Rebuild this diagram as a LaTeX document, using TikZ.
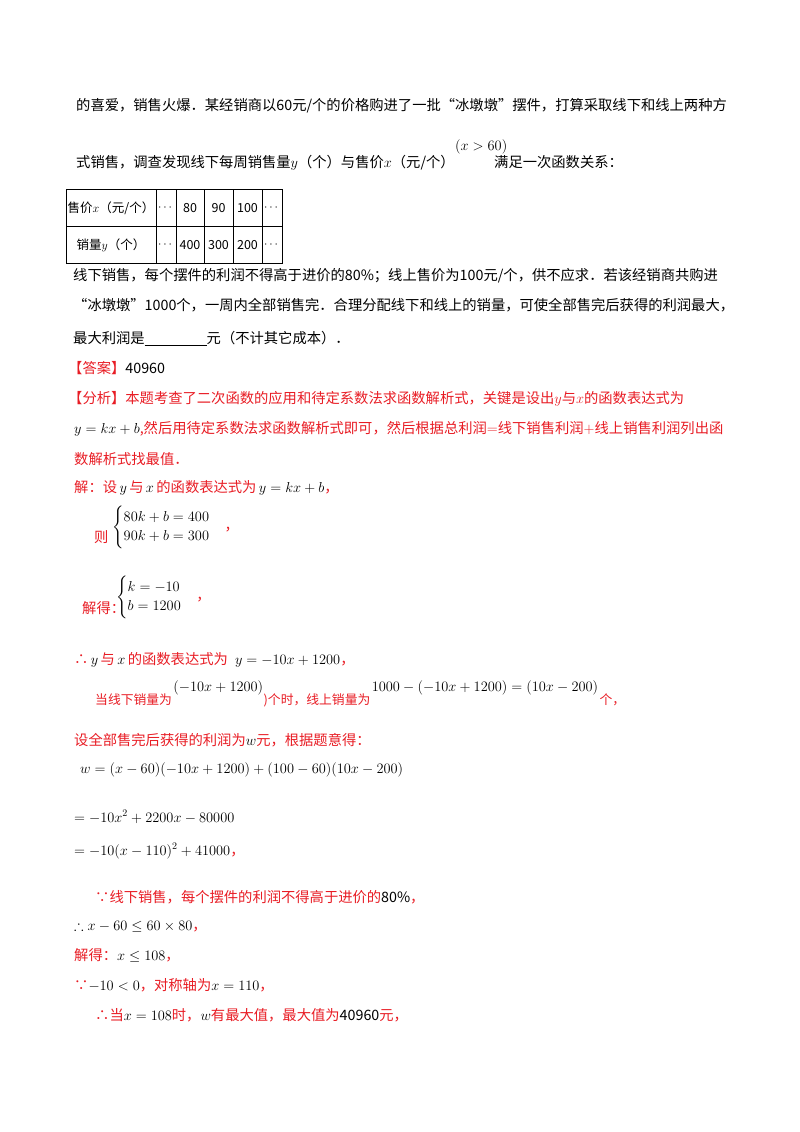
\documentclass[tikz,border=0pt]{standalone}
\usepackage{fontspec}
\usepackage{amsmath,amssymb}
\newfontfamily\cjk{Noto Sans CJK SC}
\definecolor{ansred}{RGB}{232,28,36}
\begin{document}
\begin{tikzpicture}[x=1pt,y=-1pt,
  txt/.style={anchor=base west,inner sep=0pt,font=\cjk\fontsize{14.3}{16}\selectfont},
  rtxt/.style={txt,text=ansred},
  stxt/.style={anchor=base west,inner sep=0pt,text=ansred,font=\cjk\fontsize{12.8}{14}\selectfont},
  mtxt/.style={anchor=base west,inner sep=0pt,font=\cjk\fontsize{13.5}{15}\selectfont},
  cell/.style={anchor=center,inner sep=0pt,font=\cjk\fontsize{12.5}{14}\selectfont}]
\useasboundingbox (0,0) rectangle (800,1132);
\node[txt] (l1) at (76,110) {的喜爱，销售火爆．某经销商以60元/个的价格购进了一批“冰墩墩”摆件，打算采取线下和线上两种方};
\node[txt] (l2) at (76,167) {式销售，调查发现线下每周销售量$y$（个）与售价$x$（元/个）};
\node[txt] (l2b) at (455,150) {$(x>60)$};
\node[txt] (l2c) at (494,167) {满足一次函数关系：};
% table
\draw[thick] (66,189) rectangle (282,263);
\draw (66,226) -- (282,226);
\foreach \xx in {156,176,204,233,262} \draw (\xx,189) -- (\xx,263);
\node[cell] (c11) at (111,208) {售价$x$（元/个）};
\node[cell] (c21) at (111,245) {销量$y$（个）};
\node[cell] (c12) at (166,208) {$\cdots$};
\node[cell] (c22) at (166,245) {$\cdots$};
\node[cell] (c13) at (190,208) {80};
\node[cell] (c14) at (218.5,208) {90};
\node[cell] (c15) at (247.5,208) {100};
\node[cell] (c16) at (272,208) {$\cdots$};
\node[cell] (c23) at (190,245) {400};
\node[cell] (c24) at (218.5,245) {300};
\node[cell] (c25) at (247.5,245) {200};
\node[cell] (c26) at (272,245) {$\cdots$};
\node[txt] (l3) at (73,280) {线下销售，每个摆件的利润不得高于进价的80\%；线上售价为100元/个，供不应求．若该经销商共购进};
\node[txt] (l4) at (73,310) {“冰墩墩”1000个，一周内全部销售完．合理分配线下和线上的销量，可使全部售完后获得的利润最大，};
\node[txt] (l5) at (73,343) {最大利润是\underline{\hspace{62pt}}元（不计其它成本）．};
\node[txt] (ans) at (68,373) {\textcolor{ansred}{【答案】}40960};
\node[rtxt] (a1) at (68,403) {【分析】本题考查了二次函数的应用和待定系数法求函数解析式，关键是设出$y$与$x$的函数表达式为};
\node[rtxt] (a2) at (74,433) {\textcolor{black}{$y=kx+b$},然后用待定系数法求函数解析式即可，然后根据总利润$=$线下销售利润$+$线上销售利润列出函};
\node[rtxt] (a3) at (74,464) {数解析式找最值．};
\node[rtxt] (s1) at (74,492) {解：设\textcolor{black}{$\,y\,$}与\textcolor{black}{$\,x\,$}的函数表达式为\textcolor{black}{$\,y=kx+b$}，};
\node[rtxt] (s2) at (94,542) {则};
\node[txt,anchor=west] (s2m) at (112,527) {$\begin{cases}80k+b=400\\90k+b=300\end{cases}$\textcolor{ansred}{，}};
\node[rtxt] (s3) at (82,613) {解得：};
\node[txt,anchor=west] (s3m) at (116,597) {$\begin{cases}k=-10\\b=1200\end{cases}$\textcolor{ansred}{，}};
\node[rtxt] (s4) at (74,664) {∴\textcolor{black}{$\,y\,$}与\textcolor{black}{$\,x\,$}的函数表达式为\enspace\textcolor{black}{$y=-10x+1200$}，};
\node[stxt] (s5) at (95,704) {当线下销量为};
\node[mtxt] (s5a) at ([xshift=1pt,yshift=13pt]s5.base east) {$(-10x+1200)$};
\node[stxt] (s5b) at (s5a.base east |- s5.base) {)个时，线上销量为};
\node[mtxt] (s5c) at ([xshift=1pt,yshift=13pt]s5b.base east) {$1000-(-10x+1200)=(10x-200)$};
\node[stxt] (s5d) at ([xshift=1pt]s5c.base east |- s5.base) {个，};
\node[rtxt] (s6) at (74,745) {设全部售完后获得的利润为\textcolor{black}{$w$}元，根据题意得：};
\node[txt] (s7) at (80,773) {$w=(x-60)(-10x+1200)+(100-60)(10x-200)$};
\node[txt] (s8) at (74,822) {$=-10x^2+2200x-80000$};
\node[txt] (s9) at (74,855) {$=-10(x-110)^2+41000$\textcolor{ansred}{，}};
\node[rtxt] (s10) at (95,902) {∵线下销售，每个摆件的利润不得高于进价的\textcolor{black}{80\%}，};
\node[txt] (s11) at (74,930) {$\therefore x-60\le 60\times 80$\textcolor{ansred}{，}};
\node[rtxt] (s12) at (74,960) {解得：\textcolor{black}{$x\le 108$}，};
\node[rtxt] (s13) at (74,990) {∵\textcolor{black}{$-10<0$}，对称轴为\textcolor{black}{$x=110$}，};
\node[rtxt] (s14) at (95,1020) {∴当\textcolor{black}{$x=108$}时，\textcolor{black}{$w$}有最大值，最大值为\textcolor{black}{40960}元，};
\end{tikzpicture}
\end{document}
